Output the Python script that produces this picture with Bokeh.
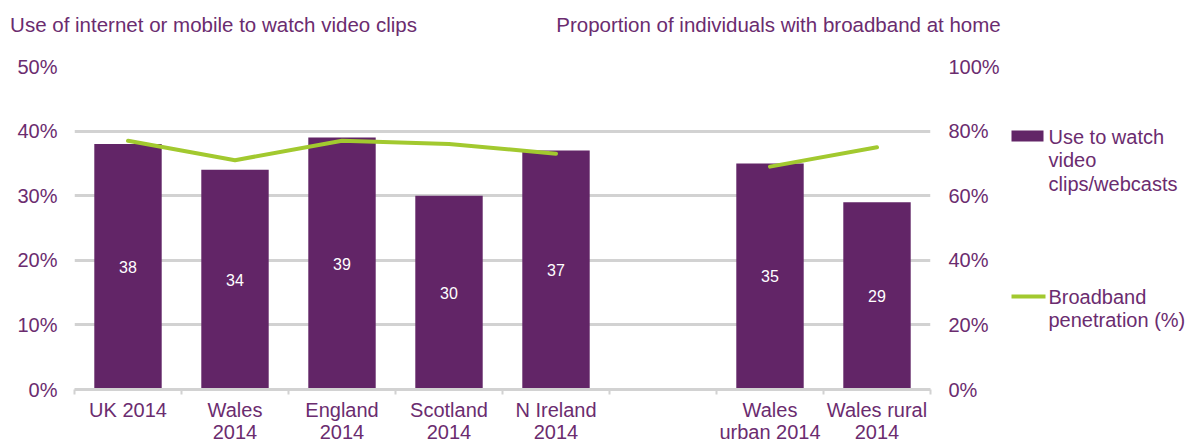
from bokeh.plotting import figure
from bokeh.layouts import row
from bokeh.models import (Range1d, LinearAxis, FixedTicker, PrintfTickFormatter)
from bokeh.core.properties import value
from bokeh.embed import file_html
from bokeh.resources import INLINE

# ---- data ----
categories = ["UK 2014", "Wales\n2014", "England\n2014", "Scotland\n2014",
              "N Ireland\n2014", "", "Wales\nurban 2014", "Wales rural\n2014"]
video_clips = [38, 34, 39, 30, 37, None, 35, 29]      # % (left axis)
broadband = [77, 71, 77, 76, 73, None, 69, 75]        # % (right axis)
left_ticks = [0, 10, 20, 30, 40, 50]
right_ticks = [0, 20, 40, 60, 80, 100]
title_left = "Use of internet or mobile to watch video clips"
title_right = "Proportion of individuals with broadband at home"
legend_bar_lines = ["Use to watch", "video", "clips/webcasts"]
legend_line_lines = ["Broadband", "penetration (%)"]

# ---- style ----
PURPLE = "#622567"
TEXT = "#6b2c6f"
GREEN = "#a2c92f"
GRID = "#d2d2d2"
FONT = "Liberation Sans"
FS = "20px"

n = len(categories)
x_pos = list(range(1, n + 1))
bar_x = [x for x, v in zip(x_pos, video_clips) if v is not None]
bar_v = [v for v in video_clips if v is not None]
line_y = [float("nan") if v is None else v for v in broadband]

# ---- main chart ----
LEFT, FRAME_W, MAIN_W = 74, 856, 1005
TOP, BOTTOM, H = 66, 56, 445
p = figure(width=MAIN_W, height=H,
           min_border_left=LEFT, min_border_right=MAIN_W - LEFT - FRAME_W,
           min_border_top=TOP, min_border_bottom=BOTTOM,
           x_range=Range1d(0.5, n + 0.5), y_range=Range1d(0, 50),
           output_backend="svg", toolbar_location=None,
           outline_line_color=None)
p.extra_y_ranges = {"bb": Range1d(0, 100)}

p.xgrid.grid_line_color = None
p.ygrid.ticker = FixedTicker(ticks=left_ticks)
p.ygrid.grid_line_color = GRID
p.ygrid.grid_line_width = 3


def style_axis(ax, standoff, size=FS):
    ax.axis_line_color = None
    ax.major_tick_line_color = None
    ax.minor_tick_line_color = None
    ax.major_tick_out = 0
    ax.major_tick_in = 0
    ax.major_label_standoff = standoff
    ax.major_label_text_font = FONT
    ax.major_label_text_font_size = size
    ax.major_label_text_color = TEXT


ya = p.yaxis[0]
ya.ticker = FixedTicker(ticks=left_ticks)
ya.formatter = PrintfTickFormatter(format="%d%%")
style_axis(ya, 17)

ra = LinearAxis(y_range_name="bb", ticker=FixedTicker(ticks=right_ticks),
                formatter=PrintfTickFormatter(format="%d%%"))
style_axis(ra, 18)
p.add_layout(ra, "right")

xa = p.xaxis[0]
xa.ticker = FixedTicker(ticks=x_pos, minor_ticks=[x - 0.5 for x in x_pos] + [n + 0.5])
xa.major_label_overrides = {x: c for x, c in zip(x_pos, categories)}
style_axis(xa, 4)
xa.major_label_text_line_height = 1.0
xa.minor_tick_line_color = GRID
xa.minor_tick_line_width = 2
xa.minor_tick_out = 5
xa.minor_tick_in = 0
xa.axis_line_color = GRID
xa.axis_line_width = 3

# titles: labels of a top axis (left one starts at x=10px, right one ends at x=1000px)
px_per_unit = FRAME_W / n
title_centers = [0.5 + (213 - LEFT) / px_per_unit, 0.5 + (778 - LEFT) / px_per_unit]
ta = LinearAxis(ticker=FixedTicker(ticks=title_centers))
ta.major_label_overrides = {title_centers[0]: title_left, title_centers[1]: title_right}
style_axis(ta, 31, "20.5px")
p.add_layout(ta, "above")

bars = p.vbar(x=bar_x, top=bar_v, bottom=0, width=0.63,
              fill_color=PURPLE, line_color=None)
p.text(x=bar_x, y=[v / 2 for v in bar_v], text=[str(v) for v in bar_v],
       text_align="center", text_baseline="middle", text_color="white",
       text_font=value(FONT), text_font_size="16px")

p.line(x=x_pos, y=line_y, y_range_name="bb", line_color=GREEN,
       line_width=4, line_cap="round", line_join="round")

# ---- legend panel (its frame is aligned with the main frame; units = page pixels) ----
LW = 1187 - MAIN_W
lg = figure(width=LW, height=H, x_range=Range1d(0, LW), y_range=Range1d(H - BOTTOM, TOP),
            min_border=0, x_axis_location=None, y_axis_location=None,
            output_backend="svg", toolbar_location=None, outline_line_color=None)
lg.grid.grid_line_color = None
lg.quad(left=6, right=38, top=130, bottom=141, fill_color=PURPLE, line_color=None)
lg.segment(x0=6, x1=40, y0=296, y1=296, line_color=GREEN, line_width=4)
lg.text(x=[43] * len(legend_bar_lines), y=[136 + 23.5 * i for i in range(len(legend_bar_lines))],
        text=legend_bar_lines, text_baseline="middle", text_color=TEXT,
        text_font=value(FONT), text_font_size=FS)
lg.text(x=[43] * len(legend_line_lines), y=[296 + 23.5 * i for i in range(len(legend_line_lines))],
        text=legend_line_lines, text_baseline="middle", text_color=TEXT,
        text_font=value(FONT), text_font_size=FS)

layout = row(p, lg, spacing=0)
open("out.html", "w").write(file_html(layout, INLINE))
